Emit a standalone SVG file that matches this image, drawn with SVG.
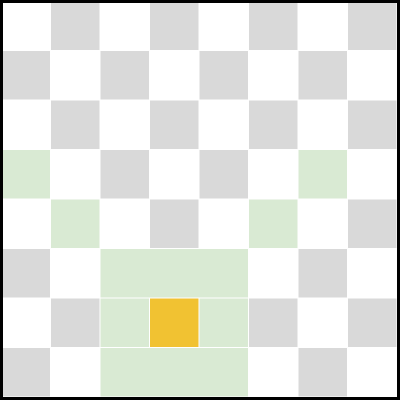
<svg xmlns="http://www.w3.org/2000/svg" width="400" height="400" viewBox="0 0 400 400">
<style>
.g{fill:#d9d9d9}
.n{fill:#d9ead3}
.o{fill:#f1c232}
.f{fill:none;stroke:#000;stroke-width:3}
</style>
<defs><rect id="c" width="48.5" height="48.5"/></defs>
<rect x="0" y="0" width="400" height="400" fill="#fff"/>
<g id="gray-cells" class="g">
<use href="#c" x="51" y="1.5"/><use href="#c" x="150" y="1.5"/><use href="#c" x="249" y="1.5"/><use href="#c" x="348" y="1.5"/>
<use href="#c" x="1.5" y="51"/><use href="#c" x="100.5" y="51"/><use href="#c" x="199.5" y="51"/><use href="#c" x="298.5" y="51"/>
<use href="#c" x="51" y="100.5"/><use href="#c" x="150" y="100.5"/><use href="#c" x="249" y="100.5"/><use href="#c" x="348" y="100.5"/>
<use href="#c" x="100.5" y="150"/><use href="#c" x="199.5" y="150"/>
<use href="#c" x="150" y="199.5"/><use href="#c" x="348" y="199.5"/>
<use href="#c" x="1.5" y="249"/><use href="#c" x="298.5" y="249"/>
<use href="#c" x="51" y="298.5"/><use href="#c" x="249" y="298.5"/><use href="#c" x="348" y="298.5"/>
<use href="#c" x="1.5" y="348"/><use href="#c" x="298.5" y="348"/>
</g>
<g id="green-cells" class="n">
<use href="#c" x="1.5" y="150"/><use href="#c" x="298.5" y="150"/>
<use href="#c" x="51" y="199.5"/><use href="#c" x="249" y="199.5"/>
<rect x="100.5" y="249" width="147.5" height="48.5"/>
<use href="#c" x="100.5" y="298.5"/><use href="#c" x="199.5" y="298.5"/>
<rect x="100.5" y="348" width="147.5" height="48.5"/>
</g>
<g id="center-cell" class="o"><use href="#c" x="150" y="298.5"/></g>
<rect class="f" x="1.5" y="1.5" width="397" height="397"/>
</svg>
